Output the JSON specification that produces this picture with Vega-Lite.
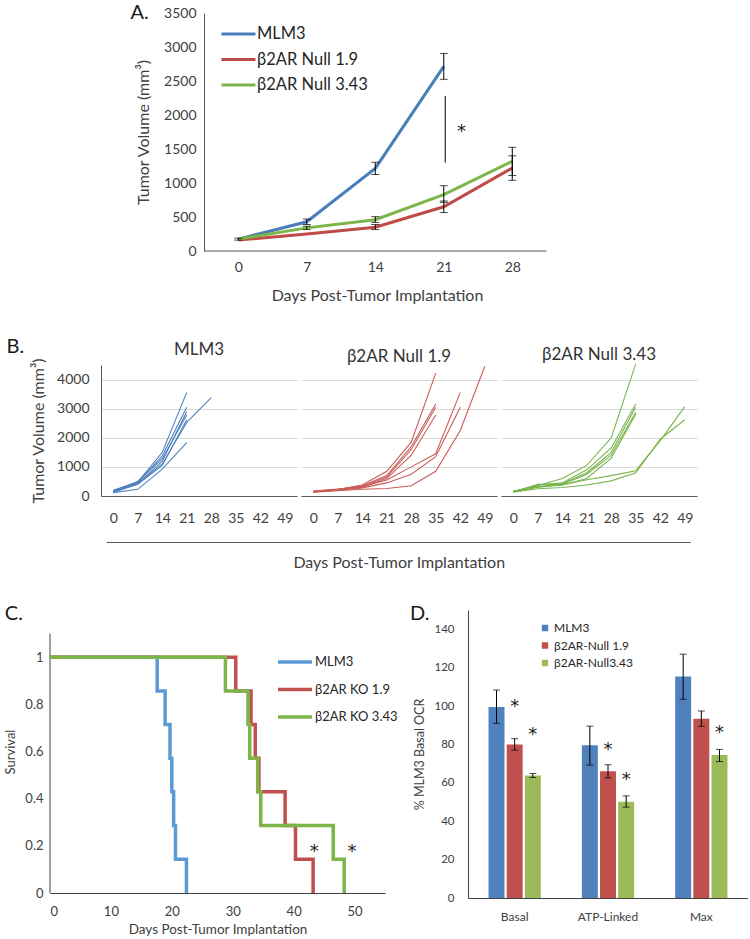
{
  "$schema": "https://vega.github.io/schema/vega-lite/v6.json",
  "background": "white",
  "padding": {"left": 4, "top": 3, "right": 0, "bottom": 0},
  "config": {
    "font": "Lato",
    "view": {"stroke": null},
    "axis": {"labelFont": "Lato", "titleFont": "Lato", "labelColor": "#404040", "titleColor": "#404040", "titleFontWeight": "normal", "ticks": false, "grid": false, "domainColor": "#595959"},
    "title": {"font": "Lato", "fontWeight": "normal", "color": "#1a1a1a"},
    "legend": {"labelFont": "Lato", "labelColor": "#262626", "padding": 0}
  },
  "datasets": {
    "a": [
      {"grp": "MLM3", "day": 0, "vol": 175, "lo": 160, "hi": 190},
      {"grp": "MLM3", "day": 7, "vol": 430, "lo": 390, "hi": 470},
      {"grp": "MLM3", "day": 14, "vol": 1215, "lo": 1125, "hi": 1305},
      {"grp": "MLM3", "day": 21, "vol": 2715, "lo": 2525, "hi": 2905},
      {"grp": "β2AR Null 1.9", "day": 0, "vol": 160},
      {"grp": "β2AR Null 1.9", "day": 7, "vol": 250},
      {"grp": "β2AR Null 1.9", "day": 14, "vol": 350, "lo": 315, "hi": 390},
      {"grp": "β2AR Null 1.9", "day": 21, "vol": 650, "lo": 565, "hi": 735},
      {"grp": "β2AR Null 1.9", "day": 28, "vol": 1220, "lo": 1040, "hi": 1400},
      {"grp": "β2AR Null 3.43", "day": 0, "vol": 175},
      {"grp": "β2AR Null 3.43", "day": 7, "vol": 340, "lo": 315, "hi": 365},
      {"grp": "β2AR Null 3.43", "day": 14, "vol": 460, "lo": 420, "hi": 505},
      {"grp": "β2AR Null 3.43", "day": 21, "vol": 830, "lo": 715, "hi": 960},
      {"grp": "β2AR Null 3.43", "day": 28, "vol": 1320, "lo": 1110, "hi": 1525}
    ],
    "b": [
      {"p": "MLM3", "m": "m1", "day": 0, "vol": 200}, {"p": "MLM3", "m": "m1", "day": 7, "vol": 480}, {"p": "MLM3", "m": "m1", "day": 14, "vol": 1500}, {"p": "MLM3", "m": "m1", "day": 21, "vol": 3560},
      {"p": "MLM3", "m": "m2", "day": 0, "vol": 180}, {"p": "MLM3", "m": "m2", "day": 7, "vol": 460}, {"p": "MLM3", "m": "m2", "day": 14, "vol": 1380}, {"p": "MLM3", "m": "m2", "day": 21, "vol": 3050},
      {"p": "MLM3", "m": "m3", "day": 0, "vol": 150}, {"p": "MLM3", "m": "m3", "day": 7, "vol": 430}, {"p": "MLM3", "m": "m3", "day": 14, "vol": 1200}, {"p": "MLM3", "m": "m3", "day": 21, "vol": 2900},
      {"p": "MLM3", "m": "m4", "day": 0, "vol": 170}, {"p": "MLM3", "m": "m4", "day": 7, "vol": 500}, {"p": "MLM3", "m": "m4", "day": 14, "vol": 1280}, {"p": "MLM3", "m": "m4", "day": 21, "vol": 2780},
      {"p": "MLM3", "m": "m5", "day": 0, "vol": 140}, {"p": "MLM3", "m": "m5", "day": 7, "vol": 420}, {"p": "MLM3", "m": "m5", "day": 14, "vol": 1100}, {"p": "MLM3", "m": "m5", "day": 21, "vol": 2530}, {"p": "MLM3", "m": "m5", "day": 28, "vol": 3380},
      {"p": "MLM3", "m": "m6", "day": 0, "vol": 130}, {"p": "MLM3", "m": "m6", "day": 7, "vol": 400}, {"p": "MLM3", "m": "m6", "day": 14, "vol": 1050}, {"p": "MLM3", "m": "m6", "day": 21, "vol": 2620},
      {"p": "MLM3", "m": "m7", "day": 0, "vol": 115}, {"p": "MLM3", "m": "m7", "day": 7, "vol": 230}, {"p": "MLM3", "m": "m7", "day": 14, "vol": 920}, {"p": "MLM3", "m": "m7", "day": 21, "vol": 1830},
      {"p": "N19", "m": "r1", "day": 0, "vol": 150}, {"p": "N19", "m": "r1", "day": 7, "vol": 220}, {"p": "N19", "m": "r1", "day": 14, "vol": 380}, {"p": "N19", "m": "r1", "day": 21, "vol": 850}, {"p": "N19", "m": "r1", "day": 28, "vol": 1850}, {"p": "N19", "m": "r1", "day": 35, "vol": 4220},
      {"p": "N19", "m": "r2", "day": 0, "vol": 160}, {"p": "N19", "m": "r2", "day": 7, "vol": 230}, {"p": "N19", "m": "r2", "day": 14, "vol": 350}, {"p": "N19", "m": "r2", "day": 21, "vol": 700}, {"p": "N19", "m": "r2", "day": 28, "vol": 1700}, {"p": "N19", "m": "r2", "day": 35, "vol": 3160},
      {"p": "N19", "m": "r3", "day": 0, "vol": 150}, {"p": "N19", "m": "r3", "day": 7, "vol": 200}, {"p": "N19", "m": "r3", "day": 14, "vol": 330}, {"p": "N19", "m": "r3", "day": 21, "vol": 650}, {"p": "N19", "m": "r3", "day": 28, "vol": 1600}, {"p": "N19", "m": "r3", "day": 35, "vol": 3050},
      {"p": "N19", "m": "r4", "day": 0, "vol": 140}, {"p": "N19", "m": "r4", "day": 7, "vol": 210}, {"p": "N19", "m": "r4", "day": 14, "vol": 300}, {"p": "N19", "m": "r4", "day": 21, "vol": 600}, {"p": "N19", "m": "r4", "day": 28, "vol": 1400}, {"p": "N19", "m": "r4", "day": 35, "vol": 2780},
      {"p": "N19", "m": "r5", "day": 0, "vol": 170}, {"p": "N19", "m": "r5", "day": 7, "vol": 240}, {"p": "N19", "m": "r5", "day": 14, "vol": 320}, {"p": "N19", "m": "r5", "day": 21, "vol": 550}, {"p": "N19", "m": "r5", "day": 28, "vol": 1000}, {"p": "N19", "m": "r5", "day": 35, "vol": 1450}, {"p": "N19", "m": "r5", "day": 42, "vol": 3560},
      {"p": "N19", "m": "r6", "day": 0, "vol": 150}, {"p": "N19", "m": "r6", "day": 7, "vol": 200}, {"p": "N19", "m": "r6", "day": 14, "vol": 280}, {"p": "N19", "m": "r6", "day": 21, "vol": 450}, {"p": "N19", "m": "r6", "day": 28, "vol": 750}, {"p": "N19", "m": "r6", "day": 35, "vol": 1350}, {"p": "N19", "m": "r6", "day": 42, "vol": 3050},
      {"p": "N19", "m": "r7", "day": 0, "vol": 130}, {"p": "N19", "m": "r7", "day": 7, "vol": 180}, {"p": "N19", "m": "r7", "day": 14, "vol": 230}, {"p": "N19", "m": "r7", "day": 21, "vol": 260}, {"p": "N19", "m": "r7", "day": 28, "vol": 350}, {"p": "N19", "m": "r7", "day": 35, "vol": 850}, {"p": "N19", "m": "r7", "day": 42, "vol": 2250}, {"p": "N19", "m": "r7", "day": 49, "vol": 4450},
      {"p": "N343", "m": "g1", "day": 0, "vol": 160}, {"p": "N343", "m": "g1", "day": 7, "vol": 350}, {"p": "N343", "m": "g1", "day": 14, "vol": 600}, {"p": "N343", "m": "g1", "day": 21, "vol": 1050}, {"p": "N343", "m": "g1", "day": 28, "vol": 2000}, {"p": "N343", "m": "g1", "day": 35, "vol": 4540},
      {"p": "N343", "m": "g2", "day": 0, "vol": 150}, {"p": "N343", "m": "g2", "day": 7, "vol": 380}, {"p": "N343", "m": "g2", "day": 14, "vol": 450}, {"p": "N343", "m": "g2", "day": 21, "vol": 900}, {"p": "N343", "m": "g2", "day": 28, "vol": 1650}, {"p": "N343", "m": "g2", "day": 35, "vol": 3160},
      {"p": "N343", "m": "g3", "day": 0, "vol": 170}, {"p": "N343", "m": "g3", "day": 7, "vol": 300}, {"p": "N343", "m": "g3", "day": 14, "vol": 420}, {"p": "N343", "m": "g3", "day": 21, "vol": 800}, {"p": "N343", "m": "g3", "day": 28, "vol": 1500}, {"p": "N343", "m": "g3", "day": 35, "vol": 3050},
      {"p": "N343", "m": "g4", "day": 0, "vol": 140}, {"p": "N343", "m": "g4", "day": 7, "vol": 400}, {"p": "N343", "m": "g4", "day": 14, "vol": 400}, {"p": "N343", "m": "g4", "day": 21, "vol": 750}, {"p": "N343", "m": "g4", "day": 28, "vol": 1400}, {"p": "N343", "m": "g4", "day": 35, "vol": 2870},
      {"p": "N343", "m": "g5", "day": 0, "vol": 160}, {"p": "N343", "m": "g5", "day": 7, "vol": 330}, {"p": "N343", "m": "g5", "day": 14, "vol": 380}, {"p": "N343", "m": "g5", "day": 21, "vol": 600}, {"p": "N343", "m": "g5", "day": 28, "vol": 1300}, {"p": "N343", "m": "g5", "day": 35, "vol": 2820},
      {"p": "N343", "m": "g6", "day": 0, "vol": 150}, {"p": "N343", "m": "g6", "day": 7, "vol": 300}, {"p": "N343", "m": "g6", "day": 14, "vol": 380}, {"p": "N343", "m": "g6", "day": 21, "vol": 560}, {"p": "N343", "m": "g6", "day": 28, "vol": 700}, {"p": "N343", "m": "g6", "day": 35, "vol": 870}, {"p": "N343", "m": "g6", "day": 42, "vol": 1900}, {"p": "N343", "m": "g6", "day": 49, "vol": 3070},
      {"p": "N343", "m": "g7", "day": 0, "vol": 130}, {"p": "N343", "m": "g7", "day": 7, "vol": 250}, {"p": "N343", "m": "g7", "day": 14, "vol": 290}, {"p": "N343", "m": "g7", "day": 21, "vol": 380}, {"p": "N343", "m": "g7", "day": 28, "vol": 520}, {"p": "N343", "m": "g7", "day": 35, "vol": 800}, {"p": "N343", "m": "g7", "day": 42, "vol": 1950}, {"p": "N343", "m": "g7", "day": 49, "vol": 2620}
    ],
    "c": [
      {"grp": "MLM3", "day": 0, "s": 1}, {"grp": "MLM3", "day": 17.6, "s": 0.857}, {"grp": "MLM3", "day": 18.9, "s": 0.714}, {"grp": "MLM3", "day": 19.7, "s": 0.571}, {"grp": "MLM3", "day": 20.0, "s": 0.429}, {"grp": "MLM3", "day": 20.3, "s": 0.286}, {"grp": "MLM3", "day": 20.6, "s": 0.143}, {"grp": "MLM3", "day": 22.4, "s": 0},
      {"grp": "β2AR KO 1.9", "day": 0, "s": 1}, {"grp": "β2AR KO 1.9", "day": 30.5, "s": 0.857}, {"grp": "β2AR KO 1.9", "day": 33.0, "s": 0.714}, {"grp": "β2AR KO 1.9", "day": 33.7, "s": 0.571}, {"grp": "β2AR KO 1.9", "day": 34.3, "s": 0.429}, {"grp": "β2AR KO 1.9", "day": 38.6, "s": 0.286}, {"grp": "β2AR KO 1.9", "day": 40.3, "s": 0.143}, {"grp": "β2AR KO 1.9", "day": 43.2, "s": 0},
      {"grp": "β2AR KO 3.43", "day": 0, "s": 1}, {"grp": "β2AR KO 3.43", "day": 28.8, "s": 0.857}, {"grp": "β2AR KO 3.43", "day": 32.5, "s": 0.714}, {"grp": "β2AR KO 3.43", "day": 32.8, "s": 0.571}, {"grp": "β2AR KO 3.43", "day": 34.1, "s": 0.429}, {"grp": "β2AR KO 3.43", "day": 34.6, "s": 0.286}, {"grp": "β2AR KO 3.43", "day": 46.5, "s": 0.143}, {"grp": "β2AR KO 3.43", "day": 48.3, "s": 0}
    ],
    "d": [
      {"cat": "Basal", "grp": "MLM3", "val": 99.5, "lo": 91, "hi": 108.3},
      {"cat": "Basal", "grp": "β2AR-Null 1.9", "val": 80, "lo": 77, "hi": 83, "star": 102},
      {"cat": "Basal", "grp": "β2AR-Null3.43", "val": 63.8, "lo": 62.8, "hi": 64.8, "star": 87.5},
      {"cat": "ATP-Linked", "grp": "MLM3", "val": 79.5, "lo": 69.2, "hi": 89.5},
      {"cat": "ATP-Linked", "grp": "β2AR-Null 1.9", "val": 66, "lo": 62.6, "hi": 69.4, "star": 79.6},
      {"cat": "ATP-Linked", "grp": "β2AR-Null3.43", "val": 50.1, "lo": 47.3, "hi": 53.2, "star": 64},
      {"cat": "Max", "grp": "MLM3", "val": 115.3, "lo": 103.5, "hi": 127},
      {"cat": "Max", "grp": "β2AR-Null 1.9", "val": 93.3, "lo": 89.4, "hi": 97.4},
      {"cat": "Max", "grp": "β2AR-Null3.43", "val": 74.5, "lo": 71.1, "hi": 77.4, "star": 88.3}
    ]
  },
  "resolve": {"scale": {"color": "independent"}, "legend": {"color": "independent"}},
  "spacing": 34,
  "center": true,
  "vconcat": [
    {
      "width": 390,
      "height": 238,
      "title": {"text": "A.", "anchor": "start", "frame": "bounds", "fontSize": 20, "dx": -5, "dy": 17, "offset": 0},
      "encoding": {
        "x": {"field": "day", "type": "quantitative", "scale": {"domain": [-3.5, 36.35], "nice": false, "zero": false},
          "axis": {"values": [0, 7, 14, 21, 28], "domain": false, "labelFontSize": 14, "labelPadding": 9, "title": "Days Post-Tumor Implantation", "titleFontSize": 16, "titlePadding": 13, "titleX": 173}},
        "y": {"field": "vol", "type": "quantitative", "scale": {"domain": [0, 3500], "nice": false},
          "axis": {"values": [0, 500, 1000, 1500, 2000, 2500, 3000, 3500], "format": "d", "domain": true, "labelFontSize": 14, "labelPadding": 8, "title": "Tumor Volume (mm³)", "titleFontSize": 16, "titlePadding": 12}}
      },
      "layer": [
        {"data": {"values": [{"day": -3.5, "day2": 31.5, "vol": 0}]}, "mark": {"type": "rule", "color": "#595959", "strokeWidth": 1}, "encoding": {"x2": {"field": "day2"}}},
        {"data": {"name": "a"}, "mark": {"type": "line", "strokeWidth": 3},
          "encoding": {"color": {"field": "grp", "type": "nominal", "scale": {"domain": ["MLM3", "β2AR Null 1.9", "β2AR Null 3.43"], "range": ["#4A7EBB", "#BE4B48", "#7DB548"]},
            "legend": {"orient": "none", "legendX": 16, "legendY": 11, "title": null, "symbolType": "stroke", "symbolSize": 1156, "symbolStrokeWidth": 3, "clipHeight": 20, "rowPadding": 5.5, "labelFontSize": 16.5, "labelOffset": 0}}}},
        {"data": {"name": "a"}, "transform": [{"filter": "isValid(datum.lo)"}], "mark": {"type": "rule", "color": "#000000", "strokeWidth": 1}, "encoding": {"y": {"field": "lo", "type": "quantitative"}, "y2": {"field": "hi"}}},
        {"data": {"name": "a"}, "transform": [{"filter": "isValid(datum.lo)"}], "mark": {"type": "tick", "color": "#000000", "orient": "horizontal", "size": 8, "thickness": 1}, "encoding": {"y": {"field": "lo", "type": "quantitative"}}},
        {"data": {"name": "a"}, "transform": [{"filter": "isValid(datum.lo)"}], "mark": {"type": "tick", "color": "#000000", "orient": "horizontal", "size": 8, "thickness": 1}, "encoding": {"y": {"field": "hi", "type": "quantitative"}}},
        {"data": {"values": [{"day": 21.15, "vol": 1300, "vol2": 2280}]}, "mark": {"type": "rule", "color": "#000000", "strokeWidth": 1}, "encoding": {"y2": {"field": "vol2"}}},
        {"data": {"values": [{"day": 22.8, "vol": 1830, "t": "*"}]}, "mark": {"type": "text", "font": "DejaVu Sans", "fontSize": 18, "baseline": "middle", "dy": 5, "color": "#1a1a1a"}, "encoding": {"text": {"field": "t"}}}
      ]
    },
    {
      "title": {"text": "B.", "anchor": "start", "frame": "bounds", "fontSize": 20, "dx": -24, "dy": 16, "offset": 0},
      "center": true,
      "spacing": 17,
      "vconcat": [
        {
          "spacing": 4,
          "hconcat": [
            {
              "width": 196, "height": 131,
              "title": {"text": "MLM3", "fontSize": 17, "offset": -2, "color": "#333333"},
              "data": {"name": "b"},
              "transform": [{"filter": "datum.p === 'MLM3'"}],
              "mark": {"type": "line", "strokeWidth": 1.1, "color": "#4F81BD"},
              "encoding": {
                "x": {"field": "day", "type": "quantitative", "scale": {"domain": [-3.5, 52.5], "nice": false, "zero": false}, "axis": {"values": [0, 7, 14, 21, 28, 35, 42, 49], "labelFontSize": 14, "labelPadding": 15, "title": null}},
                "y": {"field": "vol", "type": "quantitative", "scale": {"domain": [0, 4500], "nice": false}, "axis": {"values": [0, 1000, 2000, 3000, 4000], "format": "d", "grid": true, "gridColor": "#d9d9d9", "labelFontSize": 14, "labelPadding": 12, "title": "Tumor Volume (mm³)", "titleFontSize": 16, "titlePadding": 10}},
                "detail": {"field": "m"}
              }
            },
            {
              "width": 196, "height": 131,
              "title": {"text": "β2AR Null 1.9", "fontSize": 17, "offset": -2, "color": "#333333"},
              "data": {"name": "b"},
              "transform": [{"filter": "datum.p === 'N19'"}],
              "mark": {"type": "line", "strokeWidth": 1.1, "color": "#C95C59"},
              "encoding": {
                "x": {"field": "day", "type": "quantitative", "scale": {"domain": [-3.5, 52.5], "nice": false, "zero": false}, "axis": {"values": [0, 7, 14, 21, 28, 35, 42, 49], "labelFontSize": 14, "labelPadding": 15, "title": null}},
                "y": {"field": "vol", "type": "quantitative", "scale": {"domain": [0, 4500], "nice": false}, "axis": {"values": [0, 1000, 2000, 3000, 4000], "grid": true, "gridColor": "#d9d9d9", "labels": false, "domain": false, "title": null}},
                "detail": {"field": "m"}
              }
            },
            {
              "width": 196, "height": 131,
              "title": {"text": "β2AR Null 3.43", "fontSize": 17, "offset": -2, "color": "#333333"},
              "data": {"name": "b"},
              "transform": [{"filter": "datum.p === 'N343'"}],
              "mark": {"type": "line", "strokeWidth": 1.1, "color": "#79B54C"},
              "encoding": {
                "x": {"field": "day", "type": "quantitative", "scale": {"domain": [-3.5, 52.5], "nice": false, "zero": false}, "axis": {"values": [0, 7, 14, 21, 28, 35, 42, 49], "labelFontSize": 14, "labelPadding": 15, "title": null}},
                "y": {"field": "vol", "type": "quantitative", "scale": {"domain": [0, 4500], "nice": false}, "axis": {"values": [0, 1000, 2000, 3000, 4000], "grid": true, "gridColor": "#d9d9d9", "labels": false, "domain": false, "title": null}},
                "detail": {"field": "m"}
              }
            }
          ]
        },
        {
          "width": 584, "height": 1,
          "data": {"values": [{"s": 0, "e": 1}]},
          "mark": {"type": "rule", "color": "#595959", "strokeWidth": 1},
          "encoding": {
            "x": {"field": "s", "type": "quantitative", "scale": {"domain": [0, 1], "nice": false}, "axis": {"labels": false, "domain": false, "grid": false, "title": "Days Post-Tumor Implantation", "titleFontSize": 16, "titlePadding": 11}},
            "x2": {"field": "e"}
          }
        }
      ]
    },
    {
      "spacing": 11,
      "resolve": {"scale": {"color": "independent"}, "legend": {"color": "independent"}},
      "hconcat": [
        {
          "width": 335, "height": 283,
          "title": {"text": "C.", "anchor": "start", "frame": "bounds", "fontSize": 20, "dx": 0, "dy": 14, "offset": 0},
          "encoding": {
            "x": {"field": "day", "type": "quantitative", "scale": {"domain": [0, 55], "nice": false}, "axis": {"values": [0, 10, 20, 30, 40, 50], "domainColor": "#404040", "labelFontSize": 13, "labelPadding": 12, "title": "Days Post-Tumor Implantation", "titleFontSize": 13.5, "titlePadding": 4}},
            "y": {"field": "s", "type": "quantitative", "scale": {"domain": [0, 1.2], "nice": false}, "axis": {"values": [0, 0.2, 0.4, 0.6, 0.8, 1], "format": "~g", "domain": false, "labelFontSize": 13, "labelPadding": 7, "title": "Survival", "titleFontSize": 13, "titlePadding": 7}}
          },
          "layer": [
            {"data": {"values": [{"day": 0, "s": 0, "s2": 1.1}]}, "mark": {"type": "rule", "color": "#404040", "strokeWidth": 1}, "encoding": {"y2": {"field": "s2"}}},
            {"data": {"name": "c"}, "mark": {"type": "line", "interpolate": "step-after", "strokeWidth": 3.5},
              "encoding": {"color": {"field": "grp", "type": "nominal", "scale": {"domain": ["MLM3", "β2AR KO 1.9", "β2AR KO 3.43"], "range": ["#5B9BD5", "#C0504D", "#7DB548"]},
                "legend": {"orient": "none", "legendX": 226, "legendY": 44, "title": null, "symbolType": "stroke", "symbolSize": 1156, "symbolStrokeWidth": 3.5, "clipHeight": 16, "rowPadding": 11.5, "labelFontSize": 13, "labelOffset": 1}}}},
            {"data": {"values": [{"day": 43.4, "s": 0.195, "t": "*"}, {"day": 49.6, "s": 0.195, "t": "*"}]}, "mark": {"type": "text", "font": "DejaVu Sans", "fontSize": 18, "baseline": "middle", "dy": 5, "color": "#1a1a1a"}, "encoding": {"text": {"field": "t"}}}
          ]
        },
        {
          "width": 280, "height": 288,
          "title": {"text": "D.", "anchor": "start", "frame": "bounds", "fontSize": 20, "dx": -4, "dy": 14, "offset": 0},
          "data": {"name": "d"},
          "encoding": {
            "x": {"field": "cat", "type": "nominal", "sort": ["Basal", "ATP-Linked", "Max"], "scale": {"paddingInner": 0.44, "paddingOuter": 0.22}, "axis": {"labelAngle": 0, "labelFontSize": 12, "labelPadding": 13, "title": null, "domainColor": "#404040"}},
            "xOffset": {"field": "grp", "type": "nominal", "sort": ["MLM3", "β2AR-Null 1.9", "β2AR-Null3.43"], "scale": {"paddingInner": 0.12}},
            "y": {"field": "val", "type": "quantitative", "scale": {"domain": [0, 150], "nice": false}, "axis": {"values": [0, 20, 40, 60, 80, 100, 120, 140], "domainColor": "#404040", "labelFontSize": 11.5, "labelPadding": 14, "title": "% MLM3 Basal OCR", "titleFontSize": 12.5, "titlePadding": 7}}
          },
          "layer": [
            {"mark": {"type": "bar"},
              "encoding": {"color": {"field": "grp", "type": "nominal", "scale": {"domain": ["MLM3", "β2AR-Null 1.9", "β2AR-Null3.43"], "range": ["#4F81BD", "#C0504D", "#9BBB59"]},
                "legend": {"orient": "none", "legendX": 71, "legendY": 12, "title": null, "symbolType": "square", "symbolSize": 40, "clipHeight": 12, "rowPadding": 5.5, "labelFontSize": 12, "labelOffset": 3}}}},
            {"mark": {"type": "rule", "color": "#000000", "strokeWidth": 1}, "encoding": {"y": {"field": "lo", "type": "quantitative"}, "y2": {"field": "hi"}}},
            {"mark": {"type": "tick", "color": "#000000", "orient": "horizontal", "size": 7, "thickness": 1}, "encoding": {"y": {"field": "lo", "type": "quantitative"}}},
            {"mark": {"type": "tick", "color": "#000000", "orient": "horizontal", "size": 7, "thickness": 1}, "encoding": {"y": {"field": "hi", "type": "quantitative"}}},
            {"transform": [{"filter": "isValid(datum.star)"}], "mark": {"type": "text", "font": "DejaVu Sans", "fontSize": 18, "baseline": "middle", "dy": 5, "color": "#1a1a1a", "text": "*"}, "encoding": {"y": {"field": "star", "type": "quantitative"}}}
          ]
        }
      ]
    }
  ]
}
